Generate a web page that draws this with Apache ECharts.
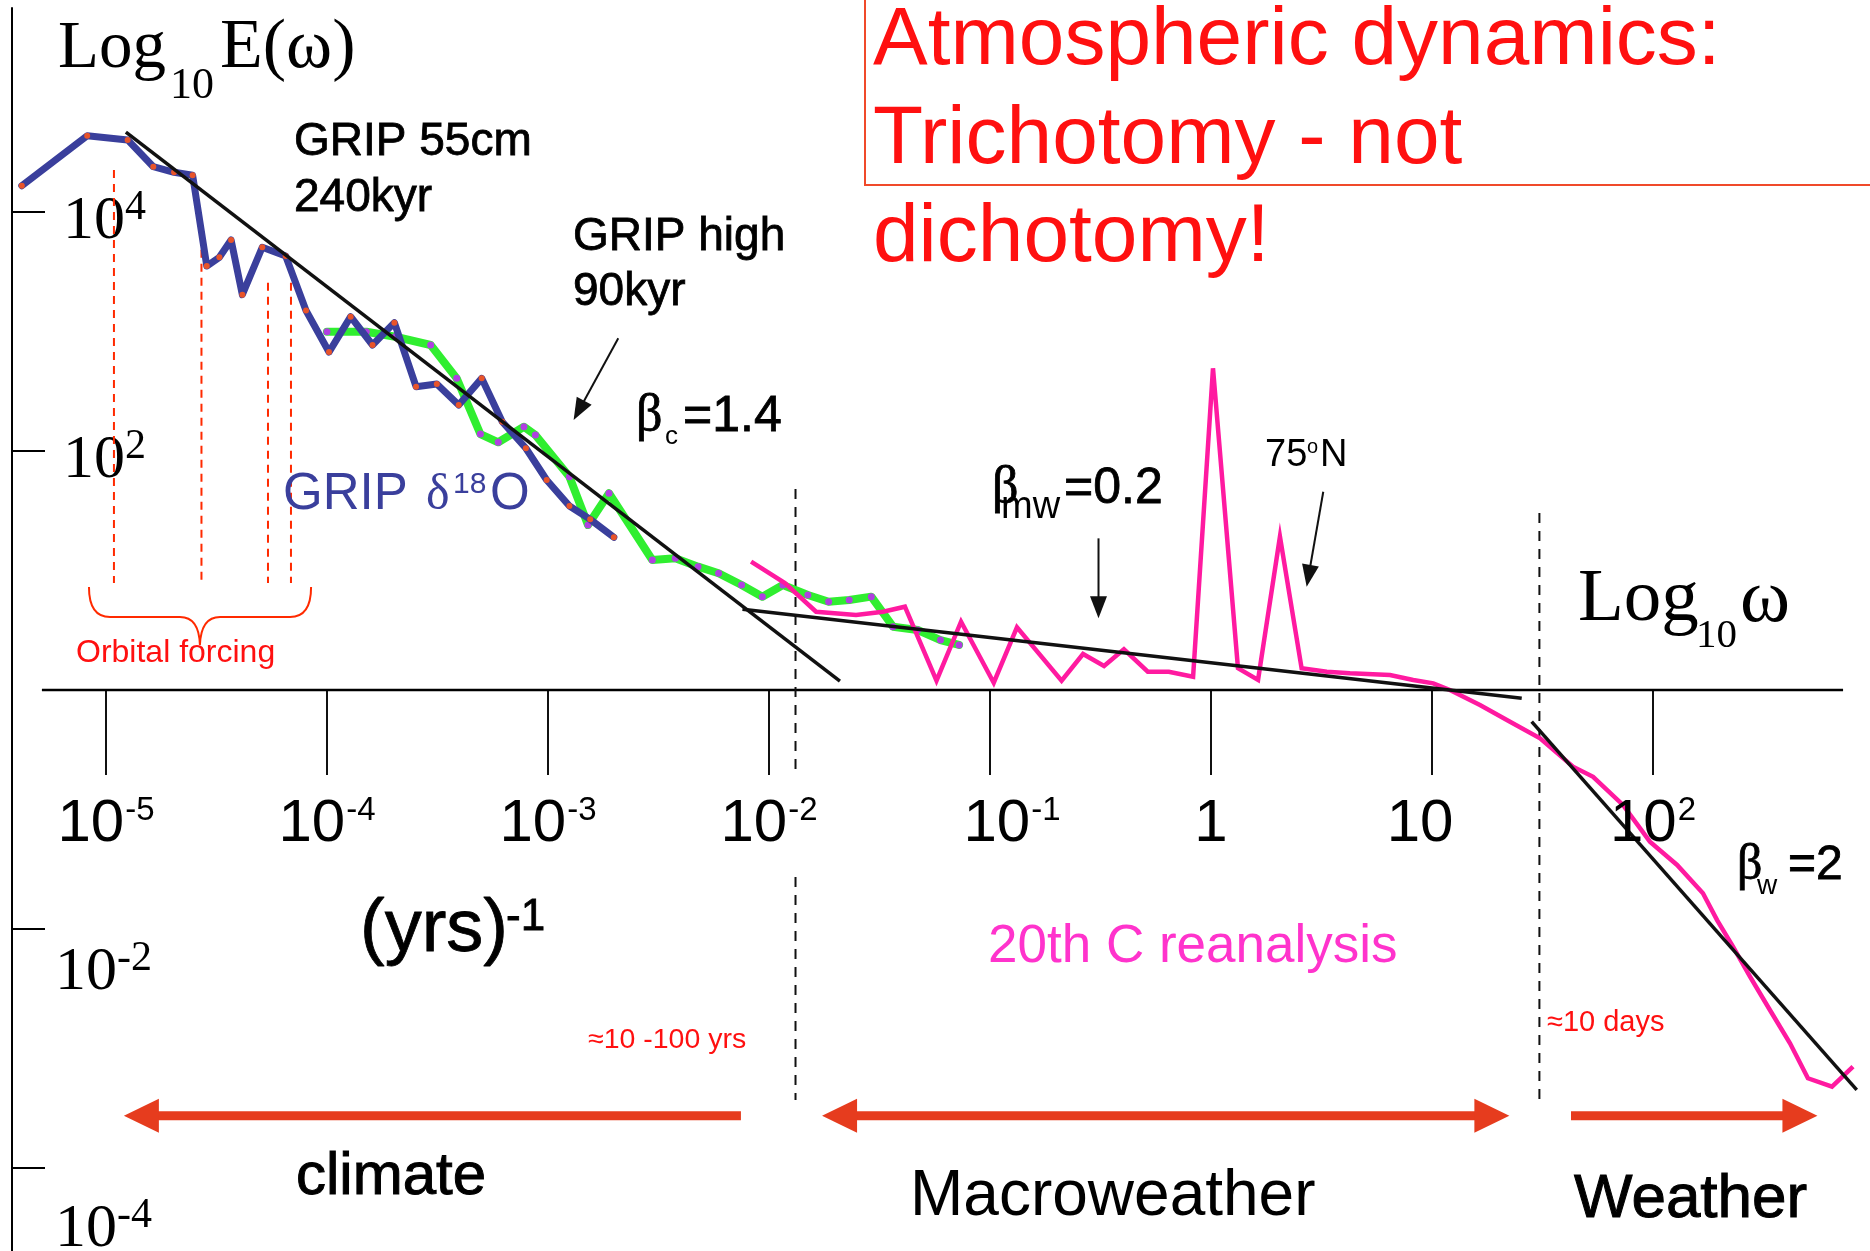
<!DOCTYPE html>
<html><head><meta charset="utf-8">
<script src="https://cdn.jsdelivr.net/npm/echarts@6/dist/echarts.min.js"></script>
<style>html,body{margin:0;padding:0;background:#fff}#c{width:1870px;height:1251px}</style>
</head><body><div id="c"></div>
<script>
// ---------- data (log10 ω , log10 E) ----------
const xTickValues = [-5, -4, -3, -2, -1, 0, 1, 2];
const xTickBase   = ['10', '10', '10', '10', '10', '1', '10', '10'];
const xTickSup    = ['-5', '-4', '-3', '-2', '-1', '', '', '2'];
const yTickValues = [4, 2, -2, -4];
const yTickBase   = ['10', '10', '10', '10'];
const yTickSup    = ['4', '2', '-2', '-4'];

// GRIP 55cm, 240kyr (blue)
const grip55 = [[-5.381,4.220],[-5.085,4.638],[-4.902,4.603],[-4.786,4.379],[-4.692,4.332],[-4.608,4.307],
  [-4.544,3.548],[-4.487,3.621],[-4.434,3.766],[-4.383,3.308],[-4.293,3.705],[-4.187,3.632],[-4.095,3.176],
  [-3.991,2.828],[-3.893,3.124],[-3.794,2.887],[-3.695,3.074],[-3.597,2.538],[-3.503,2.561],[-3.404,2.385],
  [-3.300,2.608],[-3.207,2.245],[-3.100,2.023],[-3.006,1.757],[-2.903,1.540],[-2.809,1.428],[-2.702,1.278]];
// GRIP high resolution, 90kyr (green)
const gripHigh = [[-4.000,2.998],[-3.822,2.998],[-3.691,2.956],[-3.531,2.887],[-3.413,2.608],[-3.306,2.142],
  [-3.225,2.073],[-3.109,2.203],[-3.057,2.134],[-2.903,1.785],[-2.819,1.381],[-2.724,1.646],[-2.528,1.088],
  [-2.424,1.102],[-2.321,1.032],[-2.228,0.977],[-2.124,0.879],[-2.030,0.781],[-1.937,0.879],[-1.824,0.795],
  [-1.730,0.739],[-1.637,0.753],[-1.537,0.781],[-1.439,0.530],[-1.327,0.502],[-1.224,0.418],[-1.140,0.377]];
// 20th C reanalysis, 75N (pink)
const reanalysis = [[-2.081,1.074],[-1.928,0.895],[-1.787,0.655],[-1.606,0.628],[-1.484,0.655],[-1.385,0.697],
  [-1.242,0.078],[-1.131,0.572],[-0.983,0.061],[-0.878,0.525],[-0.676,0.078],[-0.579,0.301],[-0.484,0.201],
  [-0.394,0.341],[-0.286,0.153],[-0.191,0.153],[-0.081,0.111],[0.009,2.692],[0.122,0.182],[0.213,0.084],
  [0.312,1.283],[0.410,0.182],[0.524,0.153],[0.629,0.140],[0.810,0.126],[0.915,0.084],[1.006,0.056],
  [1.081,0.000],[1.217,-0.126],[1.353,-0.265],[1.489,-0.404],[1.638,-0.642],[1.729,-0.726],[1.864,-0.962],
  [1.986,-1.269],[2.109,-1.464],[2.226,-1.701],[2.290,-1.925],[2.362,-2.148],[2.439,-2.399],[2.529,-2.678],
  [2.620,-2.956],[2.701,-3.249],[2.810,-3.320],[2.905,-3.152]];
// scaling fits
const fitClimate = [[-4.910,4.669],[-1.679,0.075]];
const fitMacro   = [[-2.120,0.675],[1.406,-0.069]];
const fitWeather = [[1.451,-0.265],[2.922,-3.347]];
// horizontal axis line
const baseline = [[-5.290,0],[2.860,0]];
// regime boundaries (dashed)
const regimeBounds = [[[-1.880,1.682],[-1.880,-0.711]],[[-1.880,-1.565],[-1.880,-3.431]],[[1.486,1.481],[1.486,-3.431]]];
// orbital forcing (red dashed)
const orbitalLines = [[[-4.964,4.351],[-4.964,0.895]],[[-4.568,3.919],[-4.568,0.895]],
  [[-4.267,3.408],[-4.267,0.895]],[[-4.163,3.408],[-4.163,0.895]]];
const orbitalBrace = [[-5.077,0.862],[-5.077,0.611],[-4.982,0.611],[-4.665,0.611],[-4.579,0.611],[-4.575,0.377],
  [-4.570,0.611],[-4.484,0.611],[-4.167,0.611],[-4.072,0.611],[-4.072,0.862]];
// regime arrows [x1,y1,x2,y2,doubleHeaded]
const regimeArrows = [[-2.127,-3.562,-4.919,-3.562,0],[-1.760,-3.562,1.350,-3.562,1],[1.629,-3.562,2.744,-3.562,0]];
// pointer arrows [x1,y1,x2,y2]
const pointerArrows = [[-2.682,2.943,-2.884,2.259],[-0.509,1.269,-0.509,0.600],[0.508,1.659,0.433,0.864]];

// ---------- chart ----------
const SANS = '"Liberation Sans", Arial, sans-serif';
const SANS_PLAIN = 'Liberation Sans, Arial, sans-serif';
const SERIF = '"Liberation Serif", "Times New Roman", serif';
const RED = '#ff1010', BLUE = '#3a3f9c', PINK = '#ff1aa0', PINKTXT = '#ff33cc', GREEN = '#30ee30';

const chart = echarts.init(document.getElementById('c'), null, {renderer: 'canvas', width: 1870, height: 1251});

function idxOf(arr, v) { return arr.findIndex(t => Math.abs(t - v) < 1e-6); }

function arrowRenderer(opt) {
  return function (params, api) {
    const a = api.coord([api.value(0), api.value(1)]);
    const b = api.coord([api.value(2), api.value(3)]);
    const dbl = api.value(4) === 1;
    const dx = b[0] - a[0], dy = b[1] - a[1], L = Math.hypot(dx, dy);
    const ux = dx / L, uy = dy / L, nx = -uy, ny = ux;
    const hl = opt.headLen, hw = opt.headWidth / 2;
    const head = (tip, sx, sy) => {
      const bx = tip[0] - sx * hl, by = tip[1] - sy * hl;
      return {type: 'polygon', shape: {points: [[tip[0], tip[1]], [bx + nx * hw, by + ny * hw], [bx - nx * hw, by - ny * hw]]},
        style: {fill: opt.color}};
    };
    const s = dbl ? [a[0] + ux * (hl - 2), a[1] + uy * (hl - 2)] : a;
    const e = [b[0] - ux * (hl - 2), b[1] - uy * (hl - 2)];
    const children = [{type: 'line', shape: {x1: s[0], y1: s[1], x2: e[0], y2: e[1]}, style: {stroke: opt.color, lineWidth: opt.width}}, head(b, ux, uy)];
    if (dbl) children.push(head(a, -ux, -uy));
    return {type: 'group', children: children};
  };
}

function segSeries(segs, color, width, dash) {
  return segs.map(seg => ({
    type: 'line', data: seg, symbol: 'none', silent: true, z: 3,
    lineStyle: {color: color, width: width, type: dash}, emphasis: {disabled: true}
  }));
}

function txt(text, x, y, size, opt) {
  opt = opt || {};
  const col = opt.color || '#000';
  const st = {text: text, fontSize: size, fontFamily: opt.serif ? SERIF : SANS, fill: col,
    align: 'left', verticalAlign: 'middle', textAlign: 'left', textVerticalAlign: 'middle'};
  if (opt.bold) { st.stroke = col; st.lineWidth = opt.bold; }
  return {type: 'text', x: x, y: y, z: 100, silent: true, style: st};
}

const lineBase = {symbol: 'none', silent: true, emphasis: {disabled: true}};

const xLabelRich = {
  a:  {fontFamily: SANS_PLAIN, fontSize: 60, lineHeight: 60, verticalAlign: 'top', color: '#000'},
  aR: {fontFamily: SANS_PLAIN, fontSize: 60, lineHeight: 60, verticalAlign: 'top', color: '#000', padding: [0, 0, 0, 44]},
  aL: {fontFamily: SANS_PLAIN, fontSize: 60, lineHeight: 60, verticalAlign: 'top', color: '#000', padding: [0, 24, 0, 0]},
  s:  {fontFamily: SANS_PLAIN, fontSize: 33, lineHeight: 33, verticalAlign: 'top', color: '#000', padding: [0, 0, 0, 1]}
};

const option = {
  backgroundColor: '#fff',
  animation: false,
  grid: {left: 12, right: 0, top: 8, bottom: 0, containLabel: false, outerBoundsMode: 'none'},
  xAxis: {
    type: 'value', min: -5.4253, max: 2.9819,
    splitLine: {show: false},
    axisLine: {show: true, onZero: true, lineStyle: {color: 'rgba(0,0,0,0)', width: 1}},
    axisTick: {show: true, customValues: xTickValues, length: 85, inside: false, lineStyle: {color: '#111', width: 2}},
    axisLabel: {show: false}
  },
  yAxis: {
    type: 'value', min: -4.6946, max: 5.7071, position: 'left',
    splitLine: {show: false},
    axisLine: {show: true, onZero: false, lineStyle: {color: '#000', width: 2}},
    axisTick: {show: true, customValues: yTickValues, inside: true, length: 33, lineStyle: {color: '#000', width: 2}},
    axisLabel: {
      show: true, inside: true, customValues: yTickValues, margin: 43, color: '#000',
      formatter: function (v) {
        const i = idxOf(yTickValues, v);
        if (i < 0) return '';
        const k = yTickValues[i] > 0 ? 'p' : (yTickValues[i] === -2 ? 'n' : 'm');
        return '{' + k + '|' + yTickBase[i] + '}{' + k + 's|' + yTickSup[i] + '}';
      },
      rich: {
        p:  {fontFamily: SERIF, fontSize: 62, lineHeight: 62, verticalAlign: 'top', color: '#000', padding: [10, 0, 0, 8]},
        ps: {fontFamily: SERIF, fontSize: 42, lineHeight: 42, verticalAlign: 'top', color: '#000', padding: [6, 0, 0, 0]},
        n:  {fontFamily: SERIF, fontSize: 62, lineHeight: 62, verticalAlign: 'top', color: '#000', padding: [44, 0, 0, 0]},
        ns: {fontFamily: SERIF, fontSize: 42, lineHeight: 42, verticalAlign: 'top', color: '#000', padding: [40, 0, 0, 0]},
        m:  {fontFamily: SERIF, fontSize: 62, lineHeight: 62, verticalAlign: 'top', color: '#000', padding: [62, 0, 0, 0]},
        ms: {fontFamily: SERIF, fontSize: 42, lineHeight: 42, verticalAlign: 'top', color: '#000', padding: [58, 0, 0, 0]}
      }
    }
  },
  series: [].concat(
    [{...lineBase, type: 'line', name: 'axis', data: baseline, z: 2, lineStyle: {color: '#000', width: 2.5}}],
    segSeries(orbitalLines, '#ff2a00', 2, [8, 6]),
    segSeries(regimeBounds, '#111', 2, [10, 8]),
    [
      {type: 'scatter', name: 'xTickLabels', silent: true, z: 9,
        data: xTickValues.map(v => [v, 0]),
        symbol: 'circle', symbolSize: 2, itemStyle: {color: 'rgba(255,255,255,0)', opacity: 1},
        label: {
          show: true, position: 'inside', align: 'center', verticalAlign: 'middle',
          color: '#000', opacity: 1, fontFamily: SANS_PLAIN, textBorderWidth: 0,
          formatter: function (p) {
            const i = p.dataIndex;
            let base = 'a';
            if (xTickValues[i] === -1) base = 'aR';
            if (xTickValues[i] === 1) base = 'aL';
            return '{' + base + '|' + xTickBase[i] + '}' + (xTickSup[i] ? '{s|' + xTickSup[i] + '}' : '');
          },
          rich: xLabelRich
        },
        labelLayout: {dy: 134, hideOverlap: false},
        emphasis: {disabled: true}},
      {type: 'custom', name: 'brace', silent: true, z: 3, data: [[orbitalBrace[5][0], orbitalBrace[5][1]]],
        renderItem: function (params, api) {
          const p = orbitalBrace.map(d => api.coord(d));
          const d = 'M' + p[0] + ' Q' + p[1] + ' ' + p[2] + ' L' + p[3] + ' Q' + p[4] + ' ' + p[5] +
            ' Q' + p[6] + ' ' + p[7] + ' L' + p[8] + ' Q' + p[9] + ' ' + p[10];
          return {type: 'path', shape: {pathData: d}, style: {fill: 'none', stroke: '#ff2a00', lineWidth: 2}};
        }},
      {type: 'line', name: 'GRIP high 90kyr', data: gripHigh, z: 4, symbol: 'circle', symbolSize: 7, silent: true,
        emphasis: {disabled: true},
        lineStyle: {color: GREEN, width: 8, join: 'round', cap: 'round'}, itemStyle: {color: '#b040e0', borderWidth: 0}},
      {type: 'line', name: 'GRIP 55cm 240kyr', data: grip55, z: 5, symbol: 'circle', symbolSize: 6, silent: true,
        emphasis: {disabled: true},
        lineStyle: {color: BLUE, width: 7, join: 'round', cap: 'round'}, itemStyle: {color: '#e8542a', borderWidth: 0}},
      {...lineBase, type: 'line', name: '20th C reanalysis', data: reanalysis, z: 6,
        lineStyle: {color: PINK, width: 4.5, join: 'miter'}},
      {...lineBase, type: 'line', name: 'fit climate', data: fitClimate, z: 7, lineStyle: {color: '#111', width: 3.5}},
      {...lineBase, type: 'line', name: 'fit macroweather', data: fitMacro, z: 7, lineStyle: {color: '#111', width: 3.5}},
      {...lineBase, type: 'line', name: 'fit weather', data: fitWeather, z: 7, lineStyle: {color: '#111', width: 3.5}},
      {type: 'custom', name: 'regimes', silent: true, z: 8, data: regimeArrows, encode: {x: [0, 2], y: [1, 3]},
        renderItem: arrowRenderer({color: '#e63c1e', width: 9, headLen: 35, headWidth: 34})},
      {type: 'custom', name: 'pointers', silent: true, z: 8, data: pointerArrows, encode: {x: [0, 2], y: [1, 3]},
        renderItem: arrowRenderer({color: '#111', width: 2, headLen: 22, headWidth: 17})}
    ]
  ),
  graphic: [
    {type: 'rect', z: 99, silent: true, shape: {x: 865, y: -2, width: 1010, height: 187},
      style: {fill: 'none', stroke: '#f04a2a', lineWidth: 2}},
    txt('Atmospheric dynamics:', 873, 41, 82, {color: RED}),
    txt('Trichotomy - not', 873, 140, 82, {color: RED}),
    txt('dichotomy!', 873, 238, 82, {color: RED}),
    txt('Log', 58, 49, 67, {serif: true}),
    txt('10', 170, 86, 44, {serif: true}),
    txt('E(\u03c9)', 220, 49, 70, {serif: true}),
    txt('GRIP 55cm', 294, 142, 46, {bold: 0.8}),
    txt('240kyr', 294, 198, 46, {bold: 0.8}),
    txt('GRIP high', 573, 237, 46, {bold: 0.8}),
    txt('90kyr', 573, 292, 46, {bold: 0.8}),
    txt('\u03b2', 636, 416, 52, {serif: true, bold: 0.8}),
    txt('c', 665, 437, 26),
    txt('=1.4', 683, 417, 50, {bold: 0.8}),
    txt('\u03b2', 992, 488, 52, {serif: true, bold: 0.8}),
    txt('mw', 1001, 508, 38),
    txt('=0.2', 1064, 489, 50, {bold: 0.8}),
    txt('75', 1265, 456, 38),
    txt('o', 1307, 447, 20),
    txt('N', 1320, 456, 38),
    txt('GRIP', 283, 495, 51, {color: BLUE}),
    txt('\u03b4', 426, 496, 50, {serif: true, color: BLUE}),
    txt('18', 453, 485, 30, {color: BLUE}),
    txt('O', 490, 495, 51, {color: BLUE}),
    txt('Orbital forcing', 76, 653, 32, {color: RED}),
    txt('Log', 1578, 600, 75, {serif: true}),
    txt('10', 1696, 636, 41, {serif: true}),
    txt('\u03c9', 1740, 601, 76, {serif: true}),
    txt('(yrs)', 360, 931, 74, {bold: 0.8}),
    txt('-1', 506, 918, 44, {bold: 0.8}),
    txt('20th C reanalysis', 988, 947, 53, {color: PINKTXT}),
    txt('\u224810 -100 yrs', 588, 1040, 28.5, {color: RED}),
    txt('\u224810 days', 1547, 1023, 29, {color: RED}),
    txt('climate', 296, 1177, 60, {bold: 1}),
    txt('Macroweather', 910, 1197, 64),
    txt('Weather', 1574, 1200, 62, {bold: 1}),
    txt('\u03b2', 1737, 866, 50, {serif: true, bold: 0.8}),
    txt('w', 1757, 886, 28),
    txt('=2', 1788, 866, 48, {bold: 0.8})
  ]
};
chart.setOption(option);
</script>
</body></html>
